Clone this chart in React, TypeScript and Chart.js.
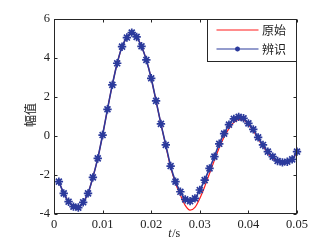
import { useEffect, useRef } from 'react';
import { Chart, registerables } from 'chart.js';

Chart.register(...registerables);

// ---- data ----
const timeS = [
  0.001, 0.002, 0.003, 0.004, 0.005, 0.006, 0.007, 0.008, 0.009, 0.01,
  0.011, 0.012, 0.013, 0.014, 0.015, 0.016, 0.017, 0.018, 0.019, 0.02,
  0.021, 0.022, 0.023, 0.024, 0.025, 0.026, 0.027, 0.028, 0.029, 0.03,
  0.031, 0.032, 0.033, 0.034, 0.035, 0.036, 0.037, 0.038, 0.039, 0.04,
  0.041, 0.042, 0.043, 0.044, 0.045, 0.046, 0.047, 0.048, 0.049, 0.05,
];

const original = [
  -2.34, -2.94, -3.37, -3.62, -3.67, -3.4, -2.94, -2.12, -1.15, 0.05,
  1.37, 2.62, 3.73, 4.58, 5.05, 5.3, 5.08, 4.6, 3.9, 2.96,
  1.8, 0.62, -0.5, -1.6, -2.42, -3.02, -3.56, -3.8, -3.66, -3.2,
  -2.6, -1.92, -1.25, -0.6, -0.05, 0.38, 0.7, 0.85, 0.82, 0.6,
  0.27, -0.13, -0.52, -0.88, -1.14, -1.32, -1.4, -1.36, -1.22, -0.84,
];

const identified = [
  -2.34, -2.94, -3.37, -3.62, -3.67, -3.4, -2.94, -2.12, -1.15, 0.05,
  1.37, 2.62, 3.73, 4.58, 5.05, 5.3, 5.08, 4.6, 3.9, 2.96,
  1.8, 0.62, -0.46, -1.54, -2.34, -2.86, -3.25, -3.34, -3.2, -2.77,
  -2.26, -1.66, -1.06, -0.4, 0.12, 0.58, 0.88, 0.98, 0.91, 0.65,
  0.34, -0.07, -0.46, -0.8, -1.06, -1.28, -1.35, -1.32, -1.2, -0.8,
];

const xTickLabels = ['0', '0.01', '0.02', '0.03', '0.04', '0.05'];
const yTickLabels = ['-4', '-2', '0', '2', '4', '6'];
const seriesNames = ['原始', '辨识'];
const xTitleItalic = 't';
const xTitleRest = '/s';
const yTitle = '幅值';

const RED = '#ff1a1a';
const BLUE = '#2b3a9c';
const AXIS = '#262626';
const SERIF = "'Liberation Serif', 'Times New Roman', serif";
const CJK = "'Noto Sans CJK SC', sans-serif";

function drawStar(ctx: CanvasRenderingContext2D, x: number, y: number, r: number) {
  ctx.beginPath();
  ctx.moveTo(x - r, y); ctx.lineTo(x + r, y);
  ctx.moveTo(x, y - r); ctx.lineTo(x, y + r);
  const d = r * Math.SQRT1_2;
  ctx.moveTo(x - d, y - d); ctx.lineTo(x + d, y + d);
  ctx.moveTo(x - d, y + d); ctx.lineTo(x + d, y - d);
  ctx.stroke();
}

const framePlugin = {
  id: 'matlabFrame',
  afterDraw(chart: any) {
    const { ctx, chartArea: a, scales } = chart;
    const L = Math.round(a.left) + 0.5;
    const R = Math.round(a.right) - 0.5;
    const T = Math.round(a.top) + 0.5;
    const B = Math.round(a.bottom) - 0.5;
    ctx.save();
    ctx.strokeStyle = AXIS;
    ctx.lineWidth = 1;
    ctx.strokeRect(L, T, R - L, B - T);
    const tl = 3;
    ctx.beginPath();
    for (const tk of scales.x.ticks) {
      const px = Math.round(scales.x.getPixelForValue(tk.value)) + 0.5;
      ctx.moveTo(px, B); ctx.lineTo(px, B - tl);
      ctx.moveTo(px, T); ctx.lineTo(px, T + tl);
    }
    for (const tk of scales.y.ticks) {
      const py = Math.round(scales.y.getPixelForValue(tk.value)) + 0.5;
      ctx.moveTo(L, py); ctx.lineTo(L + tl, py);
      ctx.moveTo(R, py); ctx.lineTo(R - tl, py);
    }
    ctx.stroke();

    // legend box
    const lx = 207.5, ly = T, lw = R - 207.5, lh = 42;
    ctx.fillStyle = '#ffffff';
    ctx.fillRect(lx, ly, lw, lh);
    ctx.strokeStyle = AXIS;
    ctx.strokeRect(lx, ly, lw, lh);
    const rows = [
      { y: 30, color: RED, marker: false, label: seriesNames[0] },
      { y: 49, color: BLUE, marker: true, label: seriesNames[1] },
    ];
    ctx.font = `12px ${CJK}`;
    ctx.textBaseline = 'middle';
    ctx.textAlign = 'left';
    for (const row of rows) {
      ctx.strokeStyle = row.color;
      ctx.lineWidth = 1.2;
      ctx.beginPath();
      ctx.moveTo(216.5, row.y); ctx.lineTo(258.5, row.y);
      ctx.stroke();
      if (row.marker) { ctx.lineWidth = 1.5; drawStar(ctx, 237.5, row.y, 2.5); }
      ctx.fillStyle = '#222';
      ctx.fillText(row.label, 262, row.y);
    }

    // axis titles
    ctx.fillStyle = '#222';
    ctx.textBaseline = 'middle';
    ctx.font = `italic 12px ${SERIF}`;
    const wT = ctx.measureText(xTitleItalic).width;
    ctx.font = `12px ${SERIF}`;
    const wR = ctx.measureText(xTitleRest).width;
    const cx = 174;
    const sx = cx - (wT + wR) / 2;
    ctx.font = `italic 12px ${SERIF}`;
    ctx.fillText(xTitleItalic, sx, 234);
    ctx.font = `12px ${SERIF}`;
    ctx.fillText(xTitleRest, sx + wT + 0.5, 234);

    ctx.translate(30, 115);
    ctx.rotate(-Math.PI / 2);
    ctx.font = `12px ${CJK}`;
    ctx.textAlign = 'center';
    ctx.fillText(yTitle, 0, 0);
    ctx.restore();
  },
};

export default function App() {
  const ref = useRef<HTMLCanvasElement>(null);
  useEffect(() => {
    if (!ref.current) return;
    const chart = new Chart(ref.current, {
      type: 'line',
      data: {
        datasets: [
          {
            label: seriesNames[1],
            data: timeS.map((t, i) => ({ x: t, y: identified[i] })),
            borderColor: BLUE,
            borderWidth: 1.6,
            pointStyle: 'star',
            pointRadius: 4.2,
            pointBorderWidth: 1.7,
            pointBorderColor: BLUE,
            pointBackgroundColor: BLUE,
            cubicInterpolationMode: 'monotone',
            clip: false,
            order: 0,
          },
          {
            label: seriesNames[0],
            data: timeS.map((t, i) => ({ x: t, y: original[i] })),
            borderColor: RED,
            borderWidth: 1.2,
            pointRadius: 0,
            cubicInterpolationMode: 'monotone',
            order: 1,
          },
        ],
      },
      options: {
        animation: false,
        responsive: false,
        events: [],
        layout: { padding: { left: 0, right: 25, top: 19, bottom: 0 } },
        plugins: { legend: { display: false }, tooltip: { enabled: false } },
        scales: {
          x: {
            type: 'linear',
            min: 0,
            max: 0.05,
            afterFit: (s: any) => { s.height = 37; },
            grid: { display: true, drawOnChartArea: false, drawTicks: false, color: 'rgba(0,0,0,0)' },
            border: { display: false },
            ticks: {
              stepSize: 0.01,
              padding: 3,
              maxRotation: 0,
              autoSkip: false,
              color: '#222',
              font: { family: SERIF, size: 12.5 },
              callback: (_v: any, i: number) => xTickLabels[i],
            },
          },
          y: {
            type: 'linear',
            min: -4,
            max: 6,
            afterFit: (s: any) => { s.width = 54; },
            grid: { display: true, drawOnChartArea: false, drawTicks: false, color: 'rgba(0,0,0,0)' },
            border: { display: false },
            ticks: {
              stepSize: 2,
              padding: 4,
              autoSkip: false,
              color: '#222',
              font: { family: SERIF, size: 12.5 },
              callback: (_v: any, i: number) => yTickLabels[i],
            },
          },
        },
      },
      plugins: [framePlugin],
    } as any);
    return () => chart.destroy();
  }, []);
  return (
    <div style={{ position: 'absolute', left: 0, top: 0, width: 322, height: 251, background: '#fff' }}>
      <canvas ref={ref} width={322} height={251} style={{ display: 'block' }} />
    </div>
  );
}
